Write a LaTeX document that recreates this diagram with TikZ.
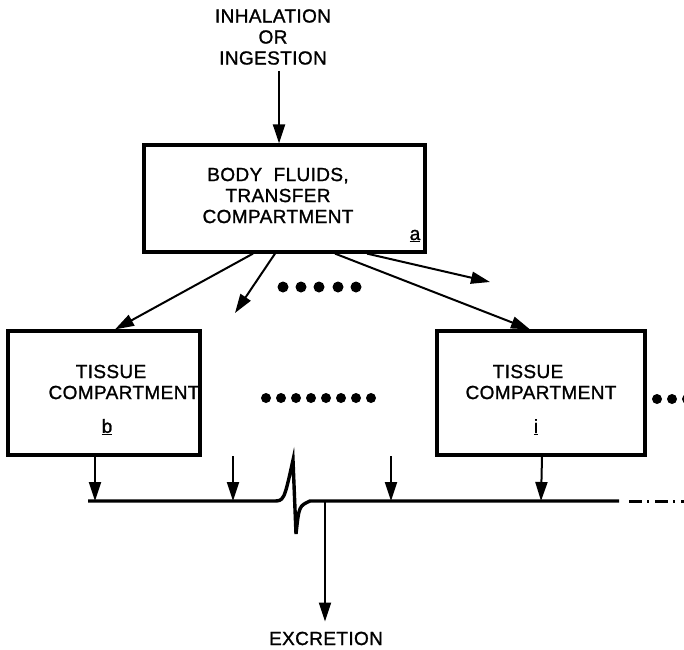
\documentclass[tikz,border=0pt]{standalone}
\usepackage{fontspec}
\setmainfont[FakeBold=1.2]{Liberation Sans}
\usetikzlibrary{arrows.meta, calc}

\begin{document}
\begin{tikzpicture}[x=1pt, y=-1pt,
    box/.style={draw, line width=3.2pt, inner sep=0pt},
    label/.style={inner sep=0pt, align=center, font=\fontsize{19}{21}\selectfont\addfontfeatures{LetterSpace=2}},
    flow/.style={line width=2pt, -{Triangle[length=19pt, width=12pt]}},
    bus/.style={line width=3.4pt}]
  \useasboundingbox (0,0) rectangle (684,649);

  % intake and the transfer compartment
  \node[label] (intake) at (273,37) {INHALATION\\OR\\INGESTION};
  \node[box, minimum width=281pt, minimum height=107pt] (a) at (284.5,198.5) {};
  \node[label] at (278,195.5) {BODY\ \ FLUIDS,\\TRANSFER\\COMPARTMENT};
  \node[label] (la) at (415,236) {\underline{a}};
  \draw[flow] ([xshift=6pt, yshift=-6pt]intake.south) -- ([xshift=-5.5pt]a.north);

  % tissue compartments
  \node[box, minimum width=192pt, minimum height=124pt] (b) at (104,393) {};
  \node[label] at (124,382) {TISSUE\hspace*{26pt}\\COMPARTMENT};
  \node[label] (lb) at (107,427) {\underline{b}};
  \node[box, minimum width=208pt, minimum height=124pt] (i) at (541,393) {};
  \node[label] at (541,382) {TISSUE\hspace*{26pt}\\COMPARTMENT};
  \node[label] (li) at (536,427) {\underline{i}};

  \coordinate (out2) at (235,313);
  \coordinate (out4) at (490,282);
  \draw[flow] ([xshift=-31.5pt]a.south) -- ([xshift=11pt]b.north);
  \draw[flow] ([xshift=-9.5pt]a.south) -- (out2);
  \draw[flow] ([xshift=50.5pt]a.south) -- ([xshift=-11pt]i.north);
  \draw[flow] ([xshift=82.5pt]a.south) -- (out4);

  \foreach \x in {283,301,319,338,356} \fill (\x,287) circle (5.5pt);
  \foreach \x in {266,281,...,372} \fill (\x,398) circle (5pt);
  \foreach \x in {657,672,687} \fill (\x,399) circle (5pt);

  % collecting line with break
  \coordinate (bus0) at (88,501);
  \coordinate (brk0) at (273,501);
  \coordinate (brk1) at (310,501);
  \coordinate (bus1) at (619,501);
  \coordinate (ex) at (325,501);
  \draw[bus] (bus0) -- (brk0) .. controls (284,501) .. (293,460) -- (296,534)
     .. controls (299,506) .. (brk1) -- (bus1);
  \draw[line width=3pt, dash pattern=on 13pt off 5pt on 2pt off 6pt] (629,501) -- (684,501);

  \coordinate (in1) at (95,501);
  \coordinate (in2) at (233,456);
  \coordinate (in3) at (391,456);
  \draw[flow] ([xshift=-9pt]b.south) -- (in1);
  \draw[flow] (in2) -- (in2 |- bus0);
  \draw[flow] (in3) -- (in3 |- bus0);
  \draw[flow] ([xshift=1pt]i.south) -- (i.south |- bus0);

  \node[label, anchor=base] (excr) at (326,645) {EXCRETION};
  \draw[flow] (ex) -- ([xshift=-1pt, yshift=10pt]excr.north);
\end{tikzpicture}
\end{document}
